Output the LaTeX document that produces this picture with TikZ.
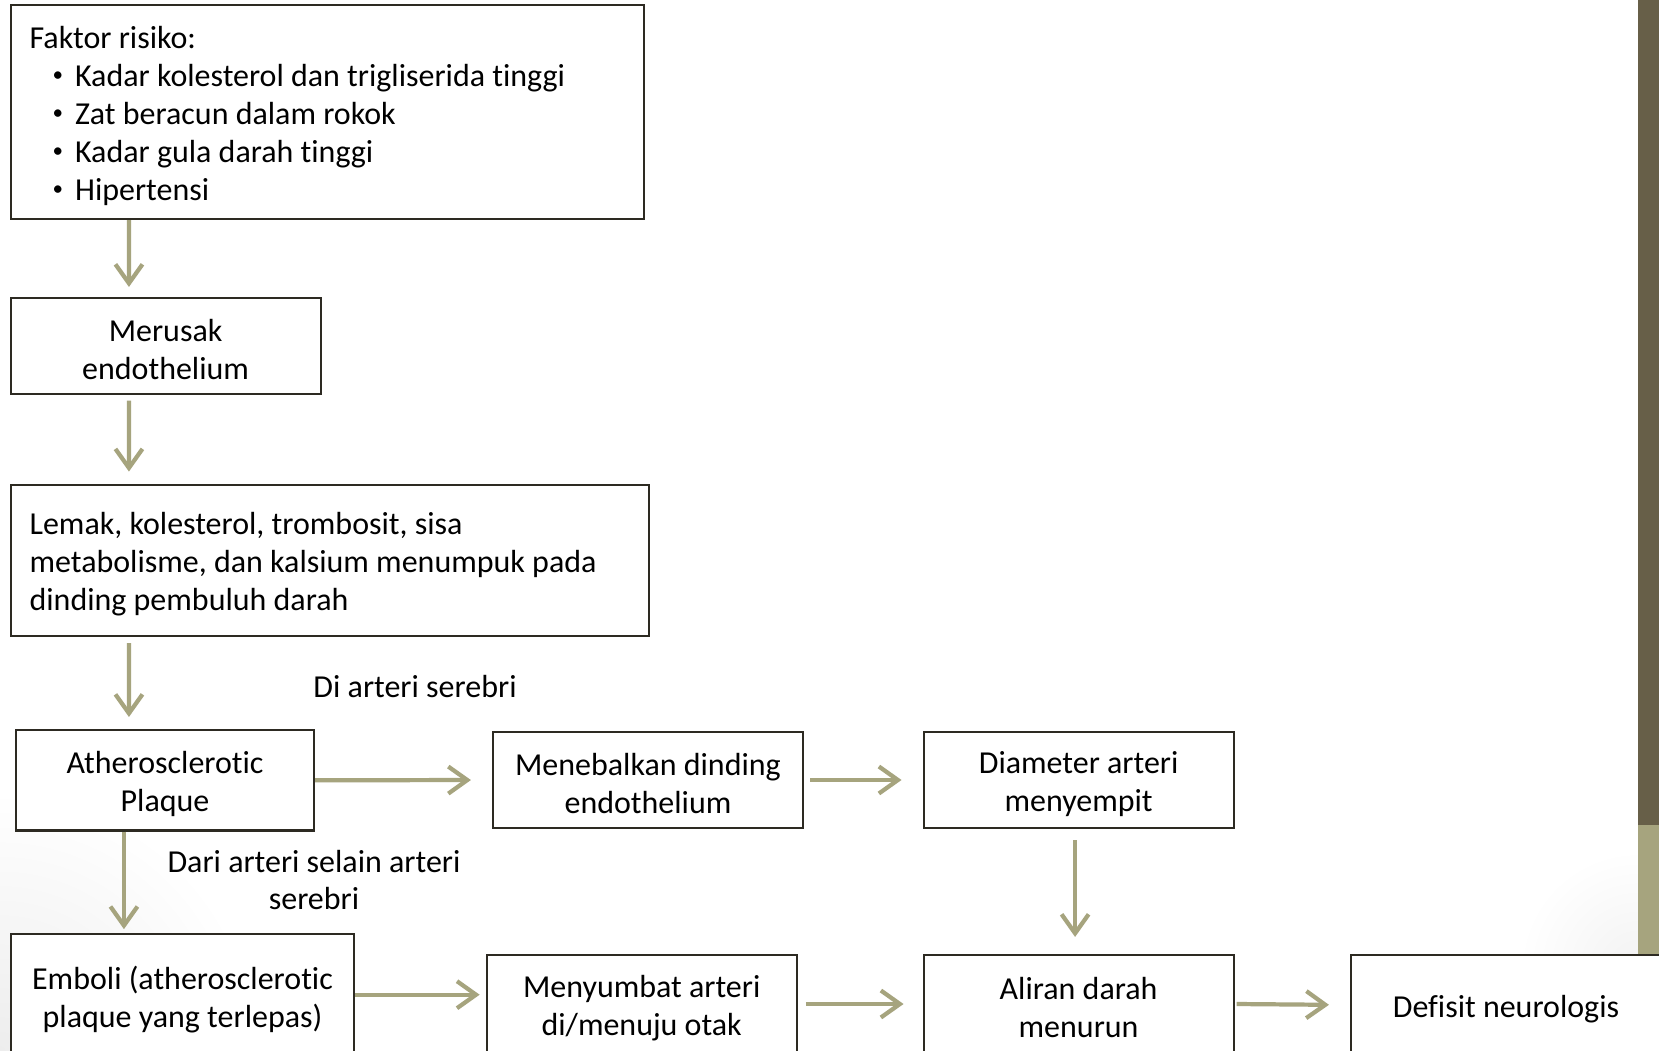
\documentclass[tikz,border=0pt]{standalone}
\usepackage{fontspec}
\setmainfont{Carlito}[Ligatures=NoCommon]
\usetikzlibrary{arrows.meta}

\definecolor{olive}{RGB}{166,164,126}
\definecolor{bardark}{RGB}{103,95,72}
\definecolor{edgecol}{RGB}{45,42,34}

\newcommand{\blt}{\hspace*{0.23cm}\raisebox{0.3ex}{\fontsize{6}{6}\selectfont\textbullet}\hspace{0.12cm}}
\newcommand{\up}{\rule{0pt}{8.4pt}}

\begin{document}
\begin{tikzpicture}[
    box/.style={draw=edgecol, line width=0.6pt, fill=white, inner sep=0pt,
        font=\fontsize{9.1}{10.8}\selectfont, align=center},
    leftbox/.style={box, align=flush left, inner xsep=0.19cm},
    flow/.style={olive, line width=1.2pt,
        -{Straight Barb[length=0.19cm, width=0.27cm, line width=1.2pt]}},
    note/.style={font=\fontsize{9.1}{10.8}\selectfont, align=center, inner sep=0pt}
]
    \useasboundingbox (0,0) rectangle (16.59,-10.51);
    \clip (0,0) rectangle (16.59,-10.51);
    % background
    \fill[white] (0,0) rectangle (16.59,-10.51);
    \shade[inner color=black!7, outer color=white] (0,-10.51) circle (2.6);
    \shade[inner color=black!5, outer color=white] (16.38,-9.7) circle (1.2);
    \fill[bardark] (16.38,0) rectangle (16.59,-8.25);
    \fill[olive] (16.38,-8.25) rectangle (16.59,-10.51);

    % boxes
    \node[leftbox, minimum width=6.334cm, minimum height=2.137cm,
        text width=5.954cm] (faktor) at (3.273,-1.122)
        {\up Faktor risiko:\\
         \blt Kadar kolesterol dan trigliserida tinggi\\
         \blt Zat beracun dalam rokok\\
         \blt Kadar gula darah tinggi\\
         \blt Hipertensi};
    \node[box, minimum width=3.10cm, minimum height=0.956cm] (merusak)
        at (1.656,-3.458) {\up Merusak\\endothelium};
    \node[leftbox, minimum width=6.38cm, minimum height=1.514cm,
        text width=6.0cm] (lemak) at (3.296,-5.603)
        {\up Lemak, kolesterol, trombosit, sisa\\
         metabolisme, dan kalsium menumpuk pada\\
         dinding pembuluh darah};
    \node[box, minimum width=2.98cm, minimum height=1.005cm] (plaque)
        at (1.65,-7.803) {\up Atherosclerotic\\Plaque};
    \node[box, minimum width=3.10cm, minimum height=0.96cm] (menebal)
        at (6.48,-7.80) {\up Menebalkan dinding\\endothelium};
    \node[box, minimum width=3.10cm, minimum height=0.96cm] (diameter)
        at (10.786,-7.80) {\up Diameter arteri\\menyempit};
    \node[box, minimum width=3.438cm, minimum height=1.25cm] (emboli)
        at (1.825,-9.967) {\up Emboli (atherosclerotic\\plaque yang terlepas)};
    \node[box, minimum width=3.10cm, minimum height=0.98cm] (menyumbat)
        at (6.417,-10.04) {\up Menyumbat arteri\\di/menuju otak};
    \node[box, minimum width=3.10cm, minimum height=0.98cm] (aliran)
        at (10.786,-10.04) {\up Aliran darah\\menurun};
    \node[box, minimum width=3.10cm, minimum height=1.0cm] (defisit)
        at (15.06,-10.05) {\up Defisit neurologis};

    % labels
    \node[note] (diserebri) at (4.15,-6.87) {Di arteri serebri};
    \node[note] (selain) at (3.14,-8.80) {Dari arteri selain arteri\\serebri};

    % arrows
    \draw[flow, shorten >=0.1cm] ([xshift=1.194cm]faktor.south west)
        -- ([xshift=1.194cm]merusak.north west);
    \draw[flow, shorten <=0.06cm, shorten >=0.12cm] ([xshift=1.194cm]merusak.south west)
        -- ([xshift=1.194cm]lemak.north west);
    \draw[flow, shorten <=0.06cm, shorten >=0.12cm] ([xshift=1.194cm]lemak.south west)
        -- ([xshift=1.14cm]plaque.north west);
    \draw[flow, shorten >=0.21cm] (plaque.east) -- (menebal.west);
    \draw[flow, shorten <=0.06cm, shorten >=0.21cm] (menebal.east) -- (diameter.west);
    \draw[flow, shorten <=0.11cm, shorten >=0.17cm] ([xshift=-0.035cm]diameter.south)
        -- ([xshift=-0.035cm]aliran.north);
    \draw[flow, shorten >=0.04cm] ([xshift=1.09cm]plaque.south west)
        -- ([xshift=1.144cm]emboli.north west);
    \draw[flow, shorten >=0.06cm] ([yshift=0.02cm]emboli.east)
        -- ([yshift=0.02cm]emboli.east -| menyumbat.west);
    \draw[flow, shorten <=0.08cm, shorten >=0.19cm] (menyumbat.east) -- (aliran.west);
    \draw[flow, shorten <=0.02cm, shorten >=0.21cm] (aliran.east) -- (defisit.west);
\end{tikzpicture}
\end{document}
